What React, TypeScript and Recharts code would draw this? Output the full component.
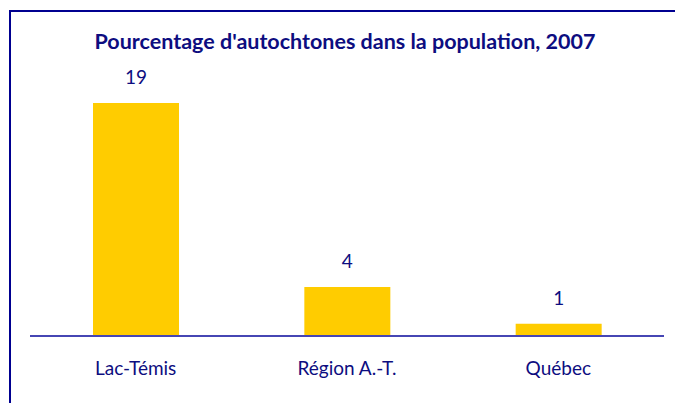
import React from 'react'
import { BarChart, Bar, XAxis, YAxis, LabelList } from 'recharts'

const categories = ['Lac-Témis', 'Région A.-T.', 'Québec']
const values = [19, 4, 1]

const NAVY = '#0d0d80'
const FONT = 'Lato, "Noto Sans", sans-serif'

export default function App() {
  const data = categories.map((name, i) => ({ name, value: values[i] }))

  return (
    <div style={{ position: 'fixed', left: 0, top: 0, width: 675, height: 403, overflow: 'hidden', background: '#fff' }}>
      {/* frame, runs off the right and bottom edges like the source */}
      <div style={{ position: 'absolute', left: 9, top: 10, width: 700, height: 420, border: '2px solid #000090', boxSizing: 'border-box' }} />
      <div style={{ position: 'absolute', left: 0, top: 28, width: 690, textAlign: 'center', fontFamily: FONT, fontWeight: 700, fontSize: 21.5, color: NAVY }}>
        Pourcentage d'autochtones dans la population, 2007
      </div>
      <div style={{ position: 'absolute', left: 0, top: 0 }}>
        <BarChart width={675} height={403} data={data} margin={{ top: 103, right: 11, bottom: 37, left: 30 }}>
          <XAxis
            dataKey="name"
            axisLine={{ stroke: '#4646b4', strokeWidth: 2 }}
            tickLine={false}
            tickMargin={20}
            tick={{ fill: NAVY, fontSize: 19, fontFamily: FONT }}
          />
          <YAxis hide domain={[0, 19]} />
          <Bar dataKey="value" fill="#ffcc00" barSize={86} isAnimationActive={false}>
            <LabelList dataKey="value" position="top" offset={19} fill={NAVY} fontSize={19} fontFamily={FONT} />
          </Bar>
        </BarChart>
      </div>
    </div>
  )
}
